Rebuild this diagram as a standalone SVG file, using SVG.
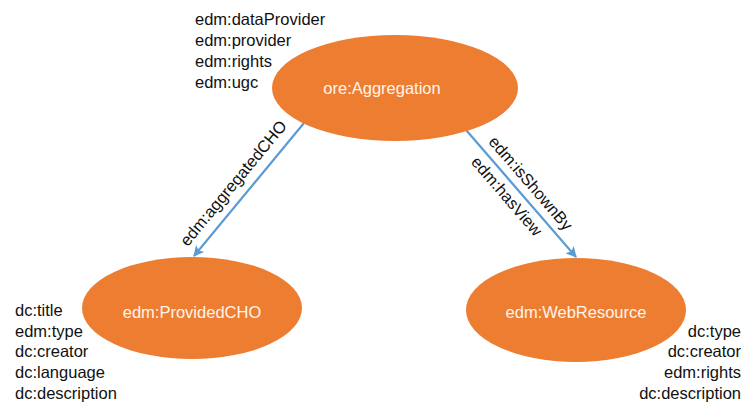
<svg xmlns="http://www.w3.org/2000/svg" width="743" height="403" viewBox="0 0 743 403">
  <style>
    .node { fill: #ED7D31; }
    .nlabel { font-family: "Liberation Sans", Arial, sans-serif; font-size: 16.5px; fill: #FFF4EC; text-anchor: middle; dominant-baseline: central; }
    .prop { font-family: "Liberation Sans", Arial, sans-serif; font-size: 16.5px; fill: #111; }
    .edge { stroke: #5B9BD5; stroke-width: 2.2; fill: none; marker-end: url(#arrow); }
    .elabel { font-family: "Liberation Sans", Arial, sans-serif; font-size: 16.5px; fill: #111; text-anchor: middle; dominant-baseline: central; }
  </style>
  <defs>
    <marker id="arrow" viewBox="0 0 10 10" refX="9" refY="5" markerWidth="5" markerHeight="5" orient="auto" markerUnits="strokeWidth">
      <path d="M0,0 L10,5 L0,10 L2.5,5 z" fill="#5B9BD5"/>
    </marker>
  </defs>
  <rect width="743" height="403" fill="#FFFFFF"/>

  <g id="connectors">
    <line class="edge" x1="304" y1="123" x2="194" y2="256"/>
    <line class="edge" x1="460" y1="123" x2="576" y2="257"/>
    <text class="elabel" transform="translate(233,183) rotate(-50.4)">edm:aggregatedCHO</text>
    <text class="elabel" transform="translate(531,183) rotate(49.1)">edm:isShownBy</text>
    <text class="elabel" transform="translate(507,196) rotate(49.1)">edm:hasView</text>
  </g>

  <g id="aggregation">
    <ellipse class="node" cx="395" cy="88" rx="123" ry="53"/>
    <text class="nlabel" x="382" y="88">ore:Aggregation</text>
    <text class="prop" x="195" y="25">edm:dataProvider</text>
    <text class="prop" x="195" y="46">edm:provider</text>
    <text class="prop" x="195" y="67">edm:rights</text>
    <text class="prop" x="195" y="88">edm:ugc</text>
  </g>

  <g id="providedCHO">
    <ellipse class="node" cx="192" cy="308" rx="110" ry="51"/>
    <text class="nlabel" x="192" y="312">edm:ProvidedCHO</text>
    <text class="prop" x="15" y="316">dc:title</text>
    <text class="prop" x="15" y="337">edm:type</text>
    <text class="prop" x="15" y="357">dc:creator</text>
    <text class="prop" x="15" y="378">dc:language</text>
    <text class="prop" x="15" y="399">dc:description</text>
  </g>

  <g id="webResource">
    <ellipse class="node" cx="576" cy="310" rx="110" ry="52"/>
    <text class="nlabel" x="576" y="312">edm:WebResource</text>
    <text class="prop" x="741" y="337" text-anchor="end">dc:type</text>
    <text class="prop" x="741" y="357" text-anchor="end">dc:creator</text>
    <text class="prop" x="741" y="378" text-anchor="end">edm:rights</text>
    <text class="prop" x="741" y="399" text-anchor="end">dc:description</text>
  </g>
</svg>
